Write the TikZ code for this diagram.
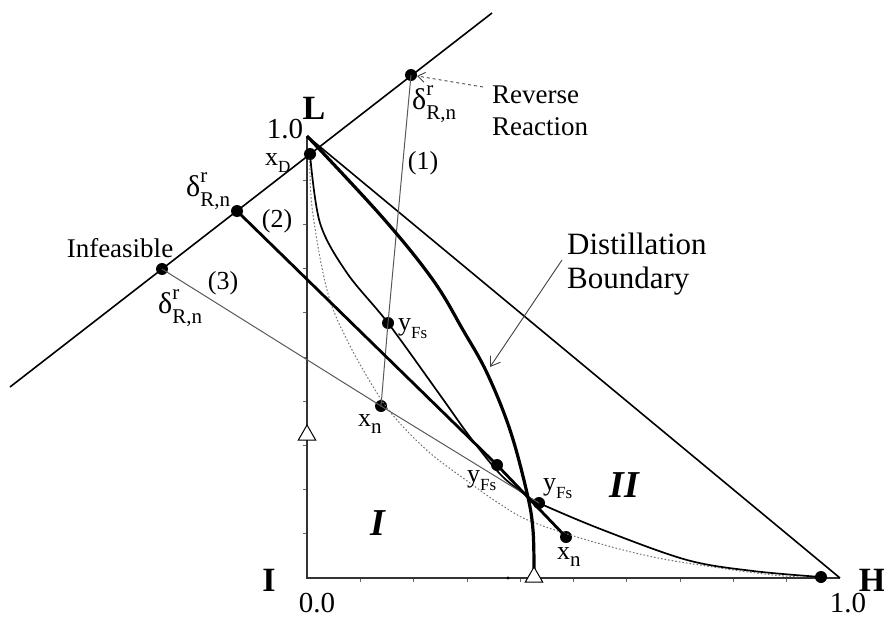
\documentclass[tikz,border=0pt]{standalone}
\usepackage{fontspec}
\setmainfont{Liberation Serif}
\usetikzlibrary{arrows.meta,shapes.geometric}
\newcommand{\fs}[1]{\fontsize{#1}{#1}\selectfont}
\newcommand{\drn}{δ\rlap{\raisebox{0.48em}{\fs{21}r}}\raisebox{-0.33em}{\fs{21}R,n}}
\newcommand{\sbx}[3]{#1\raisebox{-0.3em}{\fs{#3}#2}}
\begin{document}
\begin{tikzpicture}[x=1pt,y=-1pt,
  dot/.style={circle,fill=black,inner sep=0pt,minimum size=12pt},
  lbl/.style={font=\fontsize{26}{30}\selectfont,inner sep=0pt},
  dlbl/.style={font=\fontsize{30}{30}\selectfont,inner sep=0pt},
  num/.style={font=\fontsize{29}{32}\selectfont,inner sep=0pt},
  vtx/.style={font=\fontsize{34}{36}\selectfont\bfseries,inner sep=0pt},
  reg/.style={font=\fontsize{38}{40}\selectfont\bfseries\itshape,inner sep=0pt},
  side/.style={line width=1.6pt,black},
  axisline/.style={line width=1.6pt,black!80},
  thinline/.style={line width=1pt,black!65},
  thickline/.style={line width=2.8pt,black},
  bound/.style={line width=3.2pt,black},
  curveA/.style={line width=1.7pt,black},
  dotline/.style={line width=1pt,black!55,dash pattern=on 1.6pt off 2pt},
  tick/.style={line width=0.8pt,black!60},
  trimark/.style={regular polygon,regular polygon sides=3,draw,fill=white,line width=1pt,inner sep=0pt,minimum size=20pt}
]
\useasboundingbox (0,0) rectangle (884,618);
% triangle vertices
\coordinate (vL) at (307,136);
\coordinate (vI) at (307,578);
\coordinate (vH) at (840,578);
% ticks
\foreach \k in {1,...,9}{
  \draw[tick] (307,578-44.2*\k) -- ++(-4,0);
  \draw[tick] (307+53.3*\k,578) -- ++(0,4);
}
\draw[axisline] (vL) -- (vI) -- (vH);
\draw[side] (vL) -- (vH);
% reaction line
\coordinate (ra) at (10,387);
\coordinate (rb) at (492,13);
\draw[side] (ra) -- (rb);
% points
\node[dot] (xD) at (310,154) {};
\node[dot] (d1) at (411,75) {};
\node[dot] (d2) at (237,211) {};
\node[dot] (d3) at (162,269) {};
\node[dot] (xn1) at (381,406) {};
\node[dot] (yf1) at (388,323) {};
\node[dot] (yf2) at (497,465) {};
\node[dot] (yf3) at (539,503) {};
\node[dot] (xn2) at (566,537) {};
\node[dot] (hd) at (821,577) {};
% dotted curve
\draw[dotline] plot[smooth,tension=0.6] coordinates {(xD.center) (312,207) (327,290) (347,340) (377,393) (397,420) (430,453) (470,483) (500,504) (530,521) (587,540) (653,557) (720,568) (773,575) (800,577)};
% curve through yFs
\draw[curveA] plot[smooth,tension=0.55] coordinates {(xD.center) (320,223) (347,273) (yf1.center) (440,395) (470,437) (500,474) (523,493) (yf3.center) (603,530) (687,560) (753,571) (hd.center)};
% lines (1),(2),(3)
\draw[thinline] (d1.center) -- (yf1.center) -- (xn1.center);
\draw[thinline] (d3.center) -- (xn1.center) -- (yf3.center);
\draw[thickline] (d2.center) -- (yf2.center) -- (xn2.center);
% distillation boundary
\draw[bound] plot[smooth,tension=0.6] coordinates {(vL) (383,218) (433,280) (463,330) (487,373) (510,430) (527,493) (533,530) (534,575)};
\node[trimark] (t2) at (534,577) {};
\node[trimark] (t1) at (307,435) {};
\fill (508,578) circle (1.6pt);
% labels
\node[vtx] (lL) at (314,108) {L};
\node[vtx] (lI) at (269,580) {I};
\node[vtx] (lH) at (872,580) {H};
\node[num] (n10a) at (285,129) {1.0};
\node[num] (n00) at (317,603) {0.0};
\node[num] (n10b) at (848,603) {1.0};
\node[lbl,anchor=west] (lxD) at (265,163) {\sbx{x}{D}{17}};
\node[dlbl,anchor=west] (ld1) at (412,104) {\drn};
\node[dlbl,anchor=west] (ld2) at (186,191) {\drn};
\node[dlbl,anchor=west] (ld3) at (158,308) {\drn};
\node[lbl] (l1) at (423,163) {(1)};
\node[lbl] (l2) at (277,221) {(2)};
\node[lbl] (l3) at (223,283) {(3)};
\node[lbl,font=\fontsize{27}{30}\selectfont] (linf) at (120,248) {Infeasible};
\node[lbl,font=\fontsize{27}{32}\selectfont,anchor=west,align=left] (lrev) at (492,111) {Reverse\\Reaction};
\node[lbl,font=\fontsize{31}{34}\selectfont,anchor=west,align=left] (ldist) at (567,264) {Distillation\\Boundary};
\node[lbl,anchor=west] (lyf1) at (398,329) {\sbx{y}{Fs}{17}};
\node[lbl,anchor=west] (lxn1) at (358,424) {\sbx{x}{n}{21}};
\node[lbl,anchor=west] (lyf2) at (467,481) {\sbx{y}{Fs}{17}};
\node[lbl,anchor=west] (lyf3) at (543,489) {\sbx{y}{Fs}{17}};
\node[lbl,anchor=west] (lxn2) at (557,557) {\sbx{x}{n}{21}};
\node[reg] (rI) at (378,523) {I};
\node[reg] (rII) at (624,485) {II};
% arrows
\coordinate (rs) at (483,87);
\draw[dashed,line width=0.9pt,black!75,-{Straight Barb[length=7pt,width=10pt]}] (rs) -- (d1);
\coordinate (as) at (562,260);
\coordinate (ae) at (490,367);
\draw[line width=0.9pt,black!75,-{Straight Barb[length=9pt,width=12pt]}] (as) -- (ae);
\end{tikzpicture}
\end{document}
